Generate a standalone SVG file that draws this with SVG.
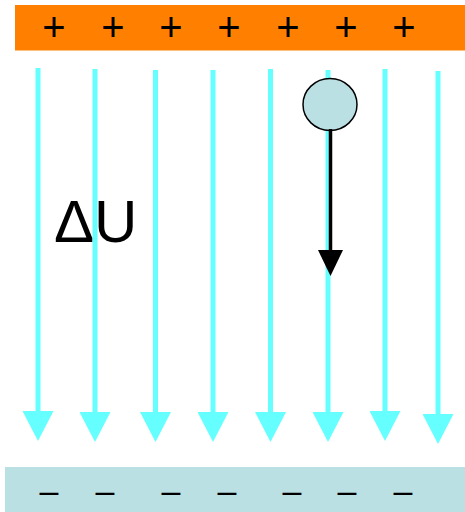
<svg xmlns="http://www.w3.org/2000/svg" width="465" height="512" viewBox="0 0 465 512">
<style>
.sign{font-family:"Liberation Sans",Arial,sans-serif;font-size:40px;fill:#000;text-anchor:middle}
.dash{font-family:"Liberation Sans",Arial,sans-serif;font-size:34px;fill:#000;text-anchor:middle}
.field{stroke:#66FFFF;stroke-width:5;fill:none;marker-end:url(#cyanHead)}
.label{font-family:"Liberation Sans",Arial,sans-serif;font-size:60px;fill:#000}
</style>
<defs>
<marker id="cyanHead" markerUnits="userSpaceOnUse" markerWidth="30" markerHeight="31" viewBox="0 -15.5 30 31" refX="0" refY="0" orient="auto">
<path d="M0,-15.5 L30,0 L0,15.5 Z" fill="#66FFFF"/>
</marker>
<marker id="blackHead" markerUnits="userSpaceOnUse" markerWidth="26" markerHeight="25" viewBox="0 -12.5 26 25" refX="0" refY="0" orient="auto">
<path d="M0,-12.5 L26,0 L0,12.5 Z" fill="#000"/>
</marker>
</defs>
<g id="positive-plate">
<rect x="15" y="5" width="450" height="45.5" fill="#FF8000"/>
<text class="sign" x="54" y="41">+</text>
<text class="sign" x="113" y="41">+</text>
<text class="sign" x="171" y="41">+</text>
<text class="sign" x="229" y="41">+</text>
<text class="sign" x="288" y="41">+</text>
<text class="sign" x="346" y="41">+</text>
<text class="sign" x="404" y="41">+</text>
</g>
<g id="negative-plate">
<rect x="5" y="467" width="460" height="45" fill="#BBE0E3"/>
<text class="dash" x="49" y="501.5">–</text>
<text class="dash" x="105" y="501.5">–</text>
<text class="dash" x="171" y="501.5">–</text>
<text class="dash" x="227" y="501.5">–</text>
<text class="dash" x="292" y="501.5">–</text>
<text class="dash" x="347" y="501.5">–</text>
<text class="dash" x="403" y="501.5">–</text>
</g>
<g id="field-lines">
<line class="field" x1="38" y1="68" x2="38" y2="411"/>
<line class="field" x1="95" y1="69" x2="95" y2="412"/>
<line class="field" x1="155.5" y1="70" x2="155.5" y2="412"/>
<line class="field" x1="213" y1="70" x2="213" y2="412"/>
<line class="field" x1="270.5" y1="69" x2="270.5" y2="412"/>
<line class="field" x1="328" y1="70" x2="328" y2="412"/>
<line class="field" x1="385" y1="69" x2="385" y2="411"/>
<line class="field" x1="438" y1="71" x2="438" y2="414"/>
</g>
<g id="delta-u">
<text class="label" x="54" y="242">ΔU</text>
</g>
<g id="charge">
<ellipse cx="330" cy="104.5" rx="27" ry="26" fill="#BBE0E3" stroke="#000" stroke-width="1.5"/>
</g>
<g id="force-arrow">
<line x1="330.5" y1="129" x2="330.5" y2="250" stroke="#000" stroke-width="3.5" marker-end="url(#blackHead)"/>
</g>
</svg>
